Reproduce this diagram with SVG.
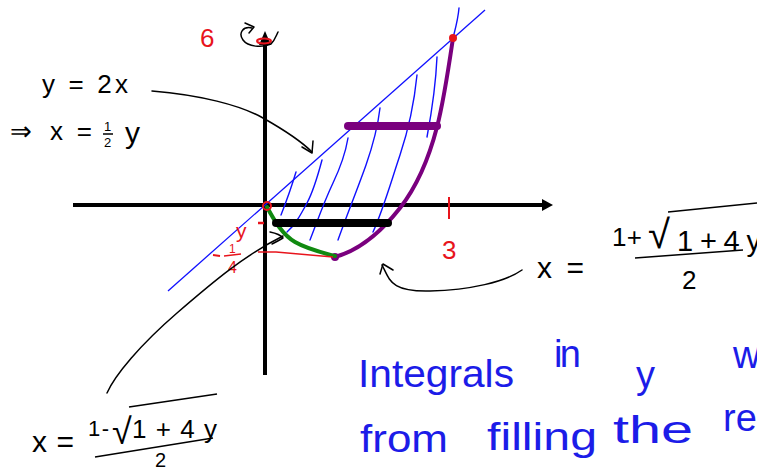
<svg xmlns="http://www.w3.org/2000/svg" width="757" height="470" viewBox="0 0 757 470">
<style>
text{font-family:"Liberation Sans",Arial,sans-serif;}
.k{fill:#000;font-size:26px;}
.r{fill:#e8141c;font-size:26px;}
.b{fill:#1c1ce8;font-size:38px;}
.thin{fill:none;stroke:#000;stroke-width:1.5;stroke-linecap:round;stroke-linejoin:round;}
.hatch{fill:none;stroke:#1010ff;stroke-width:1.4;stroke-linecap:round;}
.ax{stroke:#000;stroke-width:4;}
</style>
<rect width="757" height="470" fill="#fff"/>

<g id="axes">
<line class="ax" x1="73" y1="205" x2="545" y2="205"/>
<polygon points="542,199 553,205 542,211" fill="#000"/>
<line class="ax" x1="265" y1="42" x2="265" y2="375"/>
<polygon points="259,45 265,31 271,45" fill="#000"/>
<ellipse cx="264" cy="41" rx="7" ry="2.5" fill="none" stroke="#e8141c" stroke-width="2"/>
<path class="thin" d="M252,28 C243,26 238,33 243,40 C248,47 262,48 271,44 C275,40 276,36 278,32"/>
<path class="thin" d="M245,23 L254,27 L249,33"/>
</g>

<g id="line-y2x">
<line x1="168" y1="291" x2="485" y2="10" stroke="#1010ff" stroke-width="1.3"/>
</g>

<g id="hatching">
<path class="hatch" d="M296,172 C293,182 290,192 281,215"/>
<path class="hatch" d="M322,160 C318,175 314,190 307,203 S295,225 287,232"/>
<path class="hatch" d="M348,138 C346,150 343,162 333,183 S316,225 310,240"/>
<path class="hatch" d="M380,108 C378,125 373,145 366,165 S345,220 338,240"/>
<path class="hatch" d="M417,75 C415,95 410,125 400,155 S383,210 373,232"/>
<path class="hatch" d="M437,57 C436,80 433,105 427,137"/>
<path class="hatch" d="M459,8 C458,20 455,30 453,38"/>
</g>

<g id="curve-right">
<path d="M453,38 C449,65 444,100 437,127 S418,185 400,208 S360,250 335,257" fill="none" stroke="#7a007e" stroke-width="4" stroke-linecap="round"/>
<circle cx="453" cy="38" r="4" fill="#e8141c"/>
<circle cx="335" cy="257" r="4" fill="#7a007e"/>
</g>

<g id="curve-left">
<path d="M267,207 C275,222 283,235 295,242 S320,252 335,256" fill="none" stroke="#108a10" stroke-width="4" stroke-linecap="round"/>
<circle cx="267" cy="206" r="4" fill="none" stroke="#e8141c" stroke-width="2"/>
</g>

<g id="bars">
<line x1="276" y1="223" x2="388" y2="223" stroke="#000" stroke-width="8" stroke-linecap="round"/>
<line x1="348" y1="126" x2="437" y2="126" stroke="#7a007e" stroke-width="8" stroke-linecap="round"/>
</g>

<g id="red-labels">
<text class="r" x="200" y="47">6</text>
<line x1="449" y1="197" x2="449" y2="219" stroke="#e8141c" stroke-width="2"/>
<text class="r" x="442" y="259">3</text>
<line x1="258" y1="223" x2="264" y2="223" stroke="#e8141c" stroke-width="2.5"/>
<path d="M258,252 L276,252 L333,257" fill="none" stroke="#e8141c" stroke-width="1.5"/>
<text class="r" x="236" y="238" style="font-size:21px">y</text>
<line x1="213" y1="255" x2="220" y2="256" stroke="#e8141c" stroke-width="2"/>
<line x1="224" y1="256" x2="241" y2="254" stroke="#e8141c" stroke-width="1.5"/>
<text class="r" x="229" y="253" style="font-size:12px">1</text>
<text class="r" x="228" y="273" style="font-size:16px">4</text>
</g>

<g id="label-y2x">
<text class="k" x="42" y="93" textLength="86" lengthAdjust="spacing">y = 2x</text>
<text class="k" x="10" y="140">⇒</text>
<text class="k" x="50" y="140" textLength="42" lengthAdjust="spacing">x =</text>
<text class="k" x="104" y="131" style="font-size:13px">1</text>
<line x1="103" y1="134" x2="113" y2="134" stroke="#000" stroke-width="1.5"/>
<text class="k" x="104" y="147" style="font-size:13px">2</text>
<text class="k" x="125" y="143" style="font-size:30px">y</text>
<path class="thin" d="M152,91 C200,95 240,105 263,118 S300,140 312,152"/>
<path class="thin" d="M302,147 L312,153 L313,141"/>
</g>

<g id="label-right">
<text class="k" x="537" y="278" style="font-size:30px" textLength="47" lengthAdjust="spacing">x =</text>
<text class="k" x="612" y="246" textLength="30" lengthAdjust="spacing">1+</text>
<text class="k" x="648" y="248" style="font-size:40px">√</text>
<line x1="668" y1="212" x2="757" y2="203" stroke="#000" stroke-width="1.5"/>
<text class="k" x="677" y="251" style="font-size:29px" textLength="84" lengthAdjust="spacing">1+4y</text>
<line x1="635" y1="258" x2="743" y2="250" stroke="#000" stroke-width="1.5"/>
<text class="k" x="682" y="289">2</text>
<path class="thin" d="M522,270 C505,282 470,290 430,291 S390,280 382,265"/>
<path class="thin" d="M380,274 L383,264 L393,270"/>
</g>

<g id="label-left">
<text class="k" x="32" y="452" style="font-size:30px" textLength="42" lengthAdjust="spacing">x=</text>
<text class="k" x="88" y="436" style="font-size:22px" textLength="21" lengthAdjust="spacing">1-</text>
<text class="k" x="112" y="444" style="font-size:36px">√</text>
<line x1="129" y1="407" x2="217" y2="394" stroke="#000" stroke-width="1.5"/>
<text class="k" x="132" y="438" textLength="85" lengthAdjust="spacing">1+4y</text>
<line x1="95" y1="457" x2="213" y2="438" stroke="#000" stroke-width="1.5"/>
<text class="k" x="155" y="467" style="font-size:20px">2</text>
<path class="thin" d="M107,393 C115,375 140,345 177,313 S245,255 283,236"/>
<path class="thin" d="M270,232 Q280,234 283,238 Q278,241 272,244"/>
</g>

<g id="note">
<text class="b" x="358" y="387" textLength="156" lengthAdjust="spacingAndGlyphs">Integrals</text>
<text class="b" x="554" y="367" textLength="27" lengthAdjust="spacing">in</text>
<text class="b" x="636" y="388">y</text>
<text class="b" x="733" y="368">w</text>
<text class="b" x="360" y="452" textLength="88" lengthAdjust="spacingAndGlyphs">from</text>
<text class="b" x="487" y="450" textLength="110" lengthAdjust="spacingAndGlyphs">filling</text>
<text class="b" x="613" y="443" textLength="80" lengthAdjust="spacingAndGlyphs">the</text>
<text class="b" x="723" y="431">re</text>
</g>
</svg>
